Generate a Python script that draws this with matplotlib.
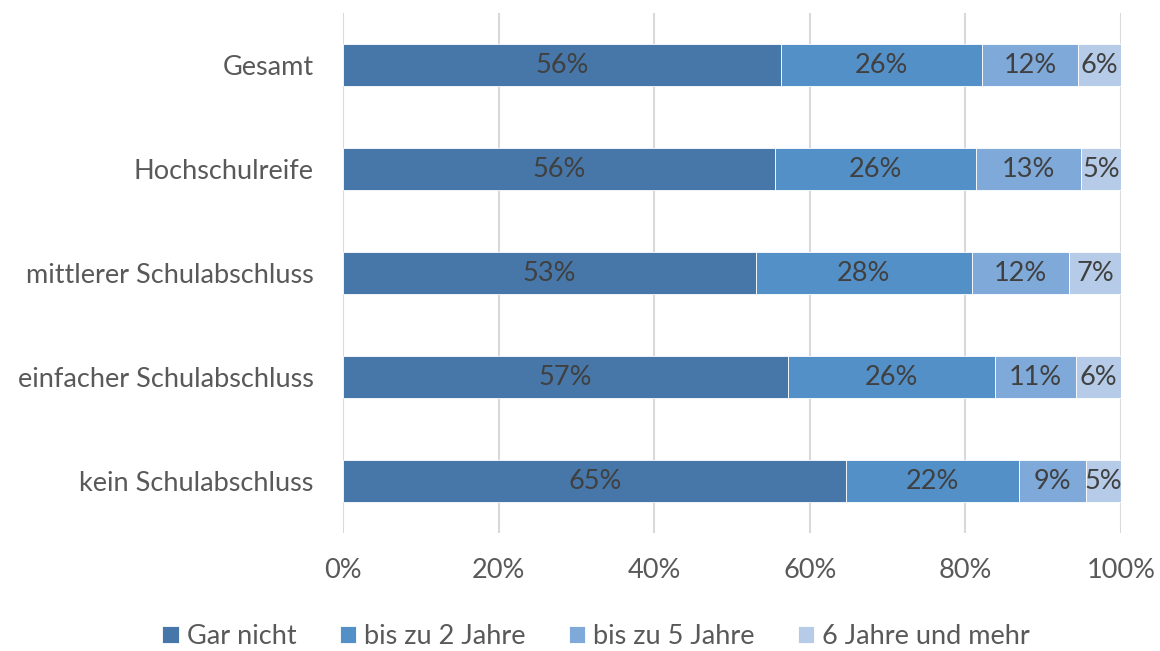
import matplotlib.pyplot as plt
import numpy as np

plt.rcParams['font.family'] = ['Lato', 'DejaVu Sans']

categories = ["Gesamt", "Hochschulreife", "mittlerer Schulabschluss",
              "einfacher Schulabschluss", "kein Schulabschluss"]
series_names = ["Gar nicht", "bis zu 2 Jahre", "bis zu 5 Jahre", "6 Jahre und mehr"]
# share per category (0..1)
gar_nicht = [0.563, 0.555, 0.531, 0.572, 0.647]
bis_2 = [0.258, 0.259, 0.277, 0.266, 0.222]
bis_5 = [0.124, 0.135, 0.125, 0.104, 0.086]
sechs_plus = [0.055, 0.051, 0.067, 0.058, 0.045]
# printed labels
labels = [["56%", "56%", "53%", "57%", "65%"],
          ["26%", "26%", "28%", "26%", "22%"],
          ["12%", "13%", "12%", "11%", "9%"],
          ["6%", "5%", "7%", "6%", "5%"]]

colors = ["#4677a8", "#5390c8", "#7fa9d9", "#b5cbe7"]
fs = 19.5

fig = plt.figure(figsize=(11.6, 6.51), dpi=100)
ax = fig.add_axes([0.2957, 0.181, 0.6707, 0.799])

y = np.arange(len(categories))[::-1]
left = np.zeros(len(categories))
for vals, name, col, labs in zip([gar_nicht, bis_2, bis_5, sechs_plus], series_names, colors, labels):
    vals = np.array(vals)
    ax.barh(y, vals, left=left, height=0.4, color=col, label=name,
            edgecolor="white", linewidth=0.6, zorder=3)
    for yi, l, v, t in zip(y, left, vals, labs):
        ax.text(l + v / 2, yi, t, ha="center", va="center", fontsize=fs,
                color="#404040", zorder=4)
    left = left + vals

ax.set_xlim(0, 1)
ax.set_ylim(-0.5, len(categories) - 0.5)
ax.set_xticks(np.arange(0, 1.01, 0.2))
ax.set_xticklabels([f"{int(round(t * 100))}%" for t in np.arange(0, 1.01, 0.2)])
ax.set_yticks(y)
ax.set_yticklabels(categories)
ax.tick_params(axis="both", length=0, labelsize=fs, labelcolor="#595959")
ax.tick_params(axis="y", pad=21)
ax.tick_params(axis="x", pad=18)
ax.grid(axis="x", color="#d9d9d9", linewidth=1.5, zorder=0)
for s in ax.spines.values():
    s.set_visible(False)

ax.legend(loc="center", ncol=4, frameon=False,
          fontsize=fs, labelcolor="#595959", handlelength=0.6, handleheight=0.6,
          columnspacing=1.6, handletextpad=0.3)
# keep legend centred on the figure, not the axes
leg = ax.get_legend()
leg.set_bbox_to_anchor((0.514, 0.022), transform=fig.transFigure)

fig.savefig("out.png", dpi=100)
